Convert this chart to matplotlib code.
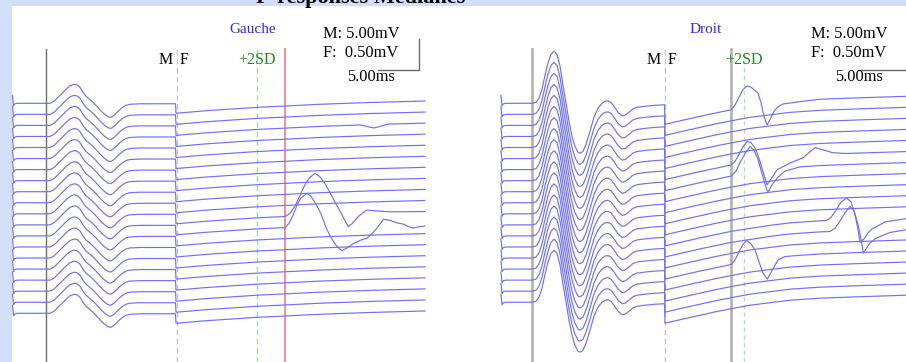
import numpy as np
import matplotlib.pyplot as plt
from matplotlib.patches import Rectangle

# units: time in ms, amplitude in mV ------------------------------
m_gain = 5.0      # mV per scale division, M window
f_gain = 0.5      # mV per scale division, F window
bar_ms = 5.0
trace_gap = 0.3565  # divisions between successive traces

n_left = 20
n_right = 19

artifact_t = [0.0, 0.12, 0.3, 0.6]
artifact_mv = [1.29, -0.40, -0.08, 0.0]

# Gauche ---------------------------------------------------------
left_m_t = [4.09, 4.57, 5.06, 5.55, 6.04, 6.52, 7.01, 7.5, 7.87, 8.23, 8.6, 8.96, 9.33, 9.7,
            10.18, 10.67, 11.16, 11.65, 12.01, 12.38, 12.87, 13.35, 13.84, 14.33, 15.55, 19.88]
left_m_mv = [0, 0, 0.32, 0.97, 1.61, 2.26, 2.82, 3.06, 2.98, 2.58, 1.77, 1.13, 0.73, 0.32,
             -0.32, -1.05, -1.69, -2.18, -2.26, -1.94, -1.29, -0.73, -0.32, -0.16, -0.08, -0.08]

left_f_t = [19.94, 21.65, 23.48, 26.52, 29.82, 33.23, 37.5, 43.6, 50.3]
left_f_mv = [-0.161, -0.142, -0.121, -0.094, -0.065, -0.044, -0.016, 0.013, 0.037]

left_fwave_10_t = [19.94, 23.48, 26.52, 29.82, 33.23, 33.84, 34.45, 35.06, 35.67, 36.28, 36.89, 37.5,
                   38.11, 38.72, 39.33, 39.94, 40.43, 40.95, 41.40, 42.13, 43.19, 44.21, 46.04, 50.3]
left_fwave_10_mv = [-0.161, -0.121, -0.094, -0.065, -0.044, 0.008, 0.126, 0.292, 0.473, 0.589, 0.653, 0.597,
                    0.487, 0.345, 0.185, 0.048, -0.081, -0.208, -0.161, -0.048, 0.061, 0.048, 0.032, 0.037]

left_fwave_11_t = [19.94, 23.48, 26.52, 29.82, 33.23, 33.72, 34.21, 34.70, 35.18, 35.88, 36.4, 37.01,
                   37.62, 38.23, 38.84, 39.45, 40.17, 40.79, 41.52, 42.38, 43.2, 43.84, 44.57, 45.22,
                   46.04, 46.89, 47.62, 48.23, 48.84, 49.45, 50.3]
left_fwave_11_mv = [-0.161, -0.121, -0.094, -0.065, -0.044, 0.024, 0.156, 0.321, 0.437, 0.509, 0.461, 0.337,
                    0.179, -0.044, -0.203, -0.329, -0.417, -0.371, -0.306, -0.250, -0.217, -0.145, -0.032, 0.090,
                    0.073, 0.032, 0.014, -0.024, -0.051, -0.032, -0.019]

left_fwave_2_t = [19.94, 23.48, 26.52, 29.82, 33.23, 37.5, 42.38, 43.35, 44.09, 44.82, 45.79, 50.3]
left_fwave_2_mv = [-0.161, -0.121, -0.094, -0.065, -0.044, -0.016, 0.007, -0.021, -0.042, -0.015, 0.021, 0.037]

# Droit ----------------------------------------------------------
right_m_t = [3.78, 4.27, 4.63, 5.0, 5.37, 5.73, 6.10, 6.46, 6.83, 7.20, 7.56, 7.93, 8.29, 8.66, 9.02,
             9.39, 9.63, 10.0, 10.37, 10.85, 11.34, 11.83, 12.32, 12.68, 13.05, 13.41, 13.78, 14.27,
             14.76, 15.12, 15.61, 16.10, 16.59, 17.56, 18.78, 19.94]
right_m_mv = [0, 0.16, 0.81, 2.26, 4.52, 6.45, 7.90, 8.39, 7.90, 5.97, 2.90, 0, -2.90, -5.32, -6.94,
              -7.90, -8.06, -7.74, -6.61, -4.52, -2.26, -0.81, 0, 0.32, 0.40, 0.16, -0.48, -1.45,
              -2.02, -1.94, -1.45, -0.89, -0.65, -0.48, -0.32, -0.24]

right_f_t = [20.0, 21.83, 24.27, 26.1, 28.05, 30.37, 32.8, 35.24, 38.9, 43.78, 49.39, 50.24]
right_f_mv = [-0.339, -0.282, -0.210, -0.156, -0.105, -0.048, -0.008, 0.032, 0.065, 0.089, 0.113, 0.116]

right_fwave_0_t = [20.0, 24.27, 28.05, 28.54, 29.02, 29.51, 30.0, 30.49, 30.98, 31.34, 31.71, 32.07,
                   32.44, 32.80, 33.29, 33.78, 34.39, 36.46, 38.9, 43.78, 50.24]
right_fwave_0_mv = [-0.339, -0.210, -0.105, -0.029, 0.097, 0.221, 0.281, 0.260, 0.205, 0.165, 0.010, -0.210,
                    -0.350, -0.266, -0.129, -0.055, -0.011, 0.027, 0.065, 0.089, 0.116]

right_fwave_5_t = [20.0, 24.27, 28.05, 28.54, 29.02, 29.51, 30.0, 30.49, 30.98, 31.46, 31.95, 32.44,
                   32.93, 33.66, 35.24, 36.83, 38.29, 39.27, 40.37, 41.95, 43.78, 50.24]
right_fwave_5_mv = [-0.339, -0.210, -0.105, -0.045, 0.065, 0.189, 0.274, 0.258, 0.173, 0.006, -0.211, -0.423,
                    -0.329, -0.181, -0.073, 0.012, 0.177, 0.141, 0.097, 0.081, 0.089, 0.116]

right_fwave_6_t = [20.0, 24.27, 28.05, 28.66, 29.15, 29.76, 30.37, 30.85, 31.34, 31.83, 32.32, 32.56,
                   33.05, 33.78, 34.63, 36.46, 38.9, 43.78, 50.24]
right_fwave_6_mv = [-0.339, -0.210, -0.105, -0.026, 0.116, 0.258, 0.373, 0.315, 0.165, -0.068, -0.287, -0.363,
                    -0.247, -0.119, -0.024, 0.044, 0.065, 0.089, 0.116]

right_fwave_11_t = [20.0, 24.27, 28.05, 32.8, 35.24, 38.9, 39.63, 40.24, 40.85, 41.46, 42.16, 42.68,
                    43.17, 43.54, 43.78, 44.27, 44.76, 45.24, 45.82, 46.83, 50.24]
right_fwave_11_mv = [-0.339, -0.210, -0.105, -0.008, 0.032, 0.065, 0.068, 0.119, 0.235, 0.368, 0.431, 0.373,
                     0.165, -0.076, -0.279, -0.226, -0.129, -0.065, -0.027, 0.048, 0.116]

right_fwave_12_t = [20.0, 24.27, 28.05, 32.8, 35.24, 38.9, 40.12, 40.73, 41.34, 41.95, 42.56, 43.05,
                    43.54, 43.9, 44.18, 44.51, 45.0, 45.61, 46.22, 47.44, 50.24]
right_fwave_12_mv = [-0.339, -0.210, -0.105, -0.008, 0.032, 0.065, 0.071, 0.123, 0.239, 0.371, 0.474, 0.406,
                     0.182, -0.042, -0.277, -0.210, -0.113, -0.048, -0.010, 0.056, 0.116]

right_fwave_14_t = [20.0, 24.27, 28.05, 28.54, 29.02, 29.51, 29.96, 30.49, 30.98, 31.46, 31.95, 32.48,
                    32.93, 33.78, 34.63, 36.46, 38.9, 43.78, 50.24]
right_fwave_14_mv = [-0.339, -0.210, -0.105, -0.029, 0.097, 0.221, 0.282, 0.227, 0.124, -0.058, -0.244, -0.340,
                     -0.232, -0.029, 0.024, 0.044, 0.065, 0.089, 0.116]

left_fwaves = {2: (left_fwave_2_t, left_fwave_2_mv),
               10: (left_fwave_10_t, left_fwave_10_mv),
               11: (left_fwave_11_t, left_fwave_11_mv)}
right_fwaves = {0: (right_fwave_0_t, right_fwave_0_mv),
                5: (right_fwave_5_t, right_fwave_5_mv),
                6: (right_fwave_6_t, right_fwave_6_mv),
                11: (right_fwave_11_t, right_fwave_11_mv),
                12: (right_fwave_12_t, right_fwave_12_mv),
                14: (right_fwave_14_t, right_fwave_14_mv)}

# markers (ms)
left_onset, right_onset = 4.09, 3.78
f_window = 20.0
left_sd2, left_latency = 29.82, 33.23
right_sd2, right_latency = 29.6, 28.05

# style ----------------------------------------------------------
trace_color = '#7070f2'
serif = 'Liberation Serif'
W, H = 906, 362
line_top = 1 - 49 / H

fig = plt.figure(figsize=(W / 100, H / 100), dpi=100)
fig.patch.set_facecolor('#d3dff9')
fig.add_artist(Rectangle((12 / W, 0), 1, 1 - 6 / H, transform=fig.transFigure,
                         facecolor='white', edgecolor='none', zorder=0))
fig.text(256 / W, 1 - 2.5 / H, 'F-responses Médianes', family=serif, fontweight='bold',
         fontsize=16, va='baseline', ha='left')


def draw_traces(ax, n, m_t, m_mv, f_t, f_mv, f_waves):
    for i in range(n):
        ft, fmv = f_waves.get(i, (f_t, f_mv))
        t = np.concatenate([artifact_t, m_t, ft])
        y = np.concatenate([np.array(artifact_mv) / m_gain,
                            np.array(m_mv) / m_gain,
                            np.array(fmv) / f_gain])
        ax.plot(t, y - i * trace_gap, color=trace_color, lw=0.85, zorder=3)


def scale_labels(ax, t_left, t_bar_end, bar_len):
    ax.text(t_left, 2.235, 'M: 5.00mV', family=serif, fontsize=11.8, va='center', ha='left')
    ax.text(t_left, 1.623, 'F:  0.50mV', family=serif, fontsize=11.8, va='center', ha='left')
    ax.text(t_left + 2.9, 0.848, '5.00ms', family=serif, fontsize=11.8, va='center', ha='left')
    ax.plot([t_bar_end - bar_len, t_bar_end, t_bar_end], [1.074, 1.074, 2.074],
            color='#6a6a6a', lw=1, zorder=2)


def mf_labels(ax, t):
    ax.axvline(t, ymax=line_top, color='#c4c4c4', lw=1, dashes=(4, 2.5), zorder=1)
    ax.text(t - 0.45, 1.381, 'M', family=serif, fontsize=11.5, va='center', ha='right')
    ax.text(t + 0.35, 1.381, 'F', family=serif, fontsize=11.5, va='center', ha='left')


# Gauche
ax_l = fig.add_axes([0, 0, 0.5, 1])
ax_l.set_xlim(-12.5 / 8.2, (453 - 12.5) / 8.2)
ax_l.set_ylim(-8.345, 3.332)
ax_l.axis('off')
draw_traces(ax_l, n_left, left_m_t, left_m_mv, left_f_t, left_f_mv, left_fwaves)
ax_l.axvline(left_onset, ymax=line_top, color='#6e6e6e', lw=1, zorder=1)
mf_labels(ax_l, f_window)
ax_l.axvline(left_sd2, ymax=line_top, color='#a6d8a6', lw=1, dashes=(4, 2.5), zorder=1)
ax_l.axvline(left_latency, ymax=line_top, color='#f29090', lw=1.4, zorder=1)
ax_l.text(left_sd2, 1.381, '+2SD', family=serif, fontsize=11.5, va='center', ha='center', color='#1f8a1f')
ax_l.text(29.33, 2.381, 'Gauche', family=serif, fontsize=11, va='center', ha='center', color='#2b2be8')
scale_labels(ax_l, 37.87, 49.57, bar_ms)

# Droit
ax_r = fig.add_axes([0.5, 0, 0.5, 1])
ax_r.set_xlim((453 - 501) / 8.2, (906 - 501) / 8.2)
ax_r.set_ylim(-8.345, 3.332)
ax_r.axis('off')
draw_traces(ax_r, n_right, right_m_t, right_m_mv, right_f_t, right_f_mv, right_fwaves)
ax_r.axvline(right_onset, ymax=line_top, color='#b6b6b6', lw=2, zorder=1)
mf_labels(ax_r, f_window)
ax_r.axvline(right_latency, ymax=line_top, color='#b6b6b6', lw=2, zorder=1)
ax_r.axvline(right_sd2, ymax=line_top, color='#bcd8c4', lw=1, dashes=(3, 2.5), zorder=1)
ax_r.text(right_sd2, 1.381, '+2SD', family=serif, fontsize=11.5, va='center', ha='center', color='#1f8a1f')
ax_r.text(25.0, 2.381, 'Droit', family=serif, fontsize=11, va='center', ha='center', color='#2b2be8')
scale_labels(ax_r, 37.8, 50.5, 7.0)

fig.savefig('out.png', dpi=100, facecolor=fig.get_facecolor())
